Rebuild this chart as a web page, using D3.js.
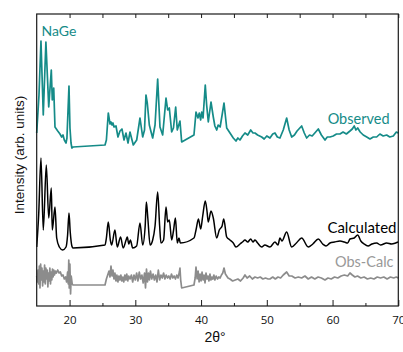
<!DOCTYPE html>
<html><head><meta charset="utf-8">
<script src="https://cdn.jsdelivr.net/npm/d3@7"></script>
<style>body{margin:0;background:#fff}svg{display:block}</style>
</head><body>
<svg id="c" width="403" height="352"></svg>
<script>
// ---- data (2theta in degrees, intensity in arbitrary units, curves already offset) ----
const obsX = [15.00,15.35,15.65,16.00,16.40,16.83,17.22,17.37,17.59,17.78,18.20,18.54,18.80,19.00,19.20,19.46,19.60,19.91,20.06,20.22,20.35,20.52,
25.39,25.60,25.89,26.15,26.30,26.45,26.60,26.76,27.06,27.36,27.67,27.97,28.28,28.58,28.89,29.19,29.69,30.21,30.71,31.12,31.40,31.62,31.82,32.13,32.40,32.64,33.00,33.40,33.75,34.16,34.67,34.92,35.17,35.53,35.80,36.14,36.38,36.79,37.05,
38.92,39.23,39.53,39.73,39.94,40.10,40.30,40.64,40.85,41.10,41.51,41.86,42.10,42.38,42.60,42.90,43.20,43.49,43.90,44.40,44.90,45.31,45.60,45.92,46.30,46.68,47.10,47.55,47.90,48.20,48.60,49.22,49.60,50.00,50.48,50.90,51.24,51.60,52.00,52.50,53.02,53.40,53.78,54.20,54.60,55.30,55.70,56.06,56.50,56.90,57.30,57.83,58.30,58.85,59.20,59.61,60.10,60.60,61.13,61.60,62.10,62.65,63.00,63.30,63.55,63.82,64.20,64.67,65.20,65.69,66.20,66.71,67.20,67.70,68.23,68.70,69.24,69.70,70.00];
const obsY = [173,211,265,191,264,199,236,206,218,179,175,172,169,171,166,163,168,220,178,163,158,159,
161,166,193,182,184,181,183,179,180,169,175,177,166,173,163,174,161,166,188,169,176,211,203,181,174,168,181,227,179,171,208,196,198,174,178,199,176,185,164,
171,194,188,193,186,194,188,221,201,184,204,189,180,176,181,179,191,203,178,173,168,165,168,166,170,173,171,176,173,173,171,169,167,170,168,172,173,169,168,176,188,176,169,171,175,180,173,168,171,170,173,177,171,166,169,169,170,172,172,174,172,175,177,180,176,178,174,171,169,167,169,169,172,170,171,169,170,174,173];

const calcX = [15.00,15.30,15.65,16.00,16.46,16.83,17.22,17.37,17.78,18.04,18.44,18.95,19.46,19.70,19.91,20.10,20.35,20.52,
25.39,25.60,25.89,26.20,26.40,26.90,27.25,27.76,28.15,28.60,28.78,29.00,29.25,29.60,30.20,30.71,31.12,31.50,31.68,31.90,32.25,32.64,33.00,33.40,33.70,33.90,34.30,34.67,34.92,35.17,35.53,35.80,36.10,36.38,36.64,36.85,
38.92,39.23,39.60,39.94,40.25,40.64,40.90,41.10,41.51,41.86,42.38,42.77,43.20,43.45,43.90,44.40,44.90,45.31,45.92,46.30,46.68,47.10,47.55,47.90,48.20,48.60,49.22,49.70,50.48,51.24,51.70,52.00,52.30,53.02,53.78,54.50,55.30,56.30,57.00,57.83,58.50,59.00,59.61,60.30,61.13,61.80,62.30,62.65,63.30,63.82,64.30,64.80,65.40,66.00,66.71,67.30,68.23,69.00,69.60,70.00];
const calcY = [59,91,148,76,141,88,118,76,99,68,59,56,59,71,93,74,60,58,
61,68,84,66,61,76,59,69,58,66,69,62,66,58,60,83,61,80,104,88,61,66,80,114,80,63,66,99,84,86,66,75,88,63,68,63,
68,76,87,77,90,105,95,84,95,88,68,76,80,87,69,66,63,59,62,64,66,64,67,64,66,63,59,61,59,64,61,68,65,74,59,63,68,59,62,67,62,60,63,64,65,64,63,67,68,71,65,62,60,62,63,61,63,62,63,64];

const diffX = [15.00,15.10,15.20,15.30,15.40,15.50,15.60,15.70,15.80,15.90,16.00,16.10,16.20,16.30,16.40,16.50,16.60,16.70,16.80,16.90,17.00,17.10,17.20,17.30,17.40,17.50,17.60,17.70,17.85,18.00,18.20,18.40,18.60,18.80,19.00,19.20,19.40,19.55,19.70,19.80,19.88,19.95,20.05,20.15,20.25,20.40,20.52,
25.39,25.60,25.80,26.00,26.15,26.30,26.45,26.60,26.75,26.90,27.05,27.20,27.35,27.50,27.65,27.80,27.95,28.10,28.25,28.40,28.55,28.70,28.85,29.00,29.20,29.40,29.60,29.80,30.00,30.20,30.40,30.60,30.80,31.00,31.20,31.40,31.55,31.70,31.85,32.00,32.15,32.30,32.50,32.70,32.90,33.10,33.30,33.50,33.70,33.90,34.10,34.30,34.50,34.70,34.90,35.10,35.30,35.50,35.70,35.90,36.10,36.30,36.50,36.70,36.79,36.90,37.05,
38.92,39.10,39.23,39.40,39.55,39.70,39.85,40.00,40.15,40.30,40.45,40.60,40.75,40.90,41.05,41.20,41.35,41.50,41.65,41.80,41.95,42.10,42.30,42.50,42.70,42.90,43.10,43.30,43.49,43.70,43.90,44.10,44.40,44.80,45.20,45.60,46.00,46.40,46.68,47.00,47.40,47.80,48.20,48.60,49.00,49.40,49.80,50.20,50.48,50.90,51.30,51.70,52.10,52.50,53.02,53.40,53.80,54.30,54.80,55.30,55.80,56.30,56.80,57.30,57.80,58.30,58.85,59.30,59.80,60.30,60.80,61.30,61.80,62.30,62.65,63.00,63.40,63.80,64.30,64.80,65.30,65.80,66.30,66.80,67.30,67.80,68.30,68.80,69.30,69.70,70.00];
const diffY = [30,24,36,22,40,18,42,26,38,20,35,24,41,22,38,27,36,19,33,25,38,22,34,26,37,29,36,31,35,33,36,33,34,30,31,27,29,24,34,22,46,18,42,12,30,22,21,
21,27,31,35,29,40,30,36,27,33,25,31,24,30,26,31,25,29,24,31,26,32,25,30,27,31,24,31,26,33,25,34,27,31,23,33,18,37,24,33,26,35,27,32,26,31,24,36,26,31,28,33,27,31,28,30,27,32,28,30,27,31,28,34,38,26,18,
21,28,39,27,35,24,32,25,34,26,31,23,33,27,30,25,32,26,29,27,31,26,30,27,29,28,31,33,38,32,30,28,27,25,26,27,25,28,31,28,30,27,29,28,29,27,28,27,27,29,27,29,28,31,34,30,30,28,29,28,30,27,29,27,29,28,26,28,27,29,28,30,31,30,33,31,29,30,28,29,27,28,27,29,28,29,27,29,28,29,28];

const xTicksMajor = [20,30,40,50,60,70];
const xTicksMinor = [25,35,45,55,65];
const labels = {title:"NaGe", obs:"Observed", calc:"Calculated", diff:"Obs-Calc", xLabel:"2θ°", yLabel:"Intensity (arb. units)"};

// ---- drawing ----
const svg = d3.select("#c");
const L = 36.7, R = 398.3, T = 14, B = 306;
const x = d3.scaleLinear().domain([15,70]).range([L,R]);
const y = d3.scaleLinear().domain([0,292]).range([B,T]);
const line = d3.line().x(d=>x(d[0])).y(d=>y(d[1]));
const smooth = d3.line().x(d=>x(d[0])).y(d=>y(d[1])).curve(d3.curveMonotoneX);
const zip = (a,b)=>a.map((v,i)=>[v,b[i]]);

svg.append("path").datum(zip(diffX,diffY)).attr("d",line)
  .attr("fill","none").attr("stroke","#8c8c8c").attr("stroke-width",1.7).attr("stroke-linejoin","round");
svg.append("path").datum(zip(calcX,calcY)).attr("d",smooth)
  .attr("fill","none").attr("stroke","#000").attr("stroke-width",1.5).attr("stroke-linejoin","round");
svg.append("path").datum(zip(obsX,obsY)).attr("d",line)
  .attr("fill","none").attr("stroke","#158b88").attr("stroke-width",1.7).attr("stroke-linejoin","round");

// frame
svg.append("rect").attr("x",L).attr("y",T).attr("width",R-L).attr("height",B-T)
  .attr("fill","none").attr("stroke","#1a1a1a").attr("stroke-width",1.2);

// bottom axis
const gb = svg.append("g").attr("transform",`translate(0,${B})`)
  .call(d3.axisBottom(x).tickValues(xTicksMajor).tickSize(-6).tickPadding(10).tickFormat(d3.format("d")));
gb.select(".domain").remove();
gb.selectAll("text").attr("font-family","'Open Sans', sans-serif").attr("font-size",11.5).attr("fill","#111");
gb.selectAll("line").attr("stroke","#1a1a1a");
const gbm = svg.append("g").attr("transform",`translate(0,${B})`)
  .call(d3.axisBottom(x).tickValues(xTicksMinor).tickSize(-3).tickFormat(""));
gbm.select(".domain").remove(); gbm.selectAll("line").attr("stroke","#1a1a1a");
// top axis ticks
const gt = svg.append("g").attr("transform",`translate(0,${T})`)
  .call(d3.axisTop(x).tickValues(xTicksMajor.concat(xTicksMinor)).tickSize(-4).tickFormat(""));
gt.select(".domain").remove(); gt.selectAll("line").attr("stroke","#1a1a1a");

// texts
const lab = (t,xx,yy,col,anchor,fs)=>svg.append("text").text(t).attr("x",xx).attr("y",yy)
  .attr("fill",col).attr("font-family","Lato, sans-serif").attr("font-size",fs).attr("text-anchor",anchor);
lab(labels.title,41.5,35.7,"#158b88","start",14);
lab(labels.obs,389.5,123.5,"#158b88","end",14.5);
lab(labels.calc,396.5,233.3,"#000","end",15);
lab(labels.diff,393.5,266.7,"#999","end",14.5);

svg.append("text").text(labels.xLabel).attr("x",215).attr("y",342)
  .attr("text-anchor","middle").attr("font-family","'Liberation Sans', Arial, sans-serif").attr("font-size",14).attr("fill","#111");
svg.append("text").text(labels.yLabel).attr("transform","translate(24,155) rotate(-90)")
  .attr("text-anchor","middle").attr("font-family","'Liberation Sans', Arial, sans-serif").attr("font-size",13.5).attr("fill","#111");
</script>
</body></html>
